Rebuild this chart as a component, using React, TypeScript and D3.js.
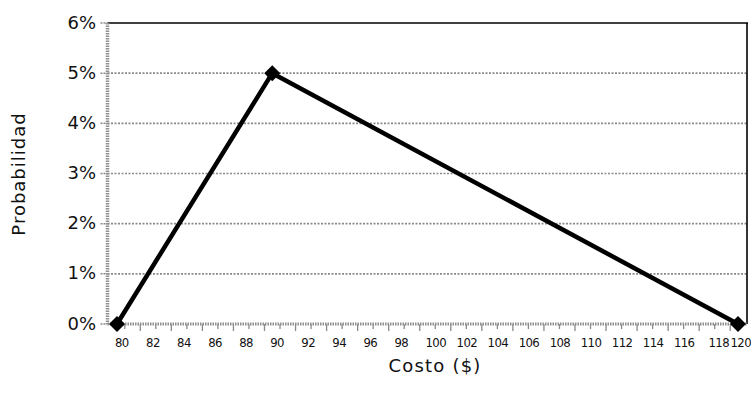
import React from "react";
import * as d3 from "d3";

const costs = [80, 90, 120];
const probs = [0, 5, 0];
const yTicks = [0, 1, 2, 3, 4, 5, 6];
const xLabels = d3.range(80, 121, 2);
const xMinor = d3.range(80.5, 120, 1);
const xTitle = "Costo ($)";
const yTitle = "Probabilidad";

const W = 751;
const H = 402;

export default function App() {
  const x = d3.scaleLinear().domain([80, 120]).range([117, 738]);
  const y = d3.scaleLinear().domain([0, 6]).range([324, 23]);
  const left = 107.5;
  const right = 747;
  const line = d3
    .line<number>()
    .x((_, i) => x(costs[i]))
    .y((d) => y(d));
  const font = "'DejaVu Sans', sans-serif";
  const cond = "'DejaVu Sans Condensed', 'DejaVu Sans', sans-serif";
  return (
    <svg width={W} height={H} style={{ position: "absolute", left: 0, top: 0, background: "#fff" }}>
      {/* gridlines */}
      {yTicks.filter((t) => t > 0 && t < 6).map((t) => (
        <line key={"g" + t} x1={left} x2={right} y1={y(t)} y2={y(t)} stroke="#8a8a8a" strokeWidth={1.6} strokeDasharray="2,1.5" />
      ))}
      {/* top and right border */}
      <line x1={left} x2={right + 1} y1={y(6)} y2={y(6)} stroke="#000" strokeWidth={1.6} />
      <line x1={right} x2={right} y1={y(6)} y2={y(0)} stroke="#000" strokeWidth={1.6} />
      {/* y ticks */}
      {yTicks.map((t) => (
        <g key={"y" + t}>
          <line x1={left - 7} x2={left} y1={y(t)} y2={y(t)} stroke="#8a8a8a" strokeWidth={1.5} strokeDasharray="2,1" />
          <text x={96} y={y(t) + 5.5} textAnchor="end" fontFamily={font} fontSize={18} fill="#111">
            {t + "%"}
          </text>
        </g>
      ))}
      {/* x minor ticks */}
      {xMinor.map((v, i) => (
        <line key={"m" + v} x1={x(v)} x2={x(v)} y1={y(0)} y2={y(0) + (i % 2 === 0 ? 5 : 7)} stroke="#8a8a8a" strokeWidth={1.3} />
      ))}
      {/* axes */}
      <line x1={left} x2={left} y1={y(6)} y2={y(0)} stroke="#8f8f8f" strokeWidth={3.5} strokeDasharray="1.5,1" />
      <line x1={left} x2={right} y1={y(0)} y2={y(0)} stroke="#8f8f8f" strokeWidth={3} strokeDasharray="1.5,1" />
      {/* x labels */}
      {xLabels.map((v) => {
        const last = v === 120;
        const prev = v === 118;
        return (
          <text
            key={"x" + v}
            x={last ? 751 : prev ? 729 : x(v) - 2}
            y={347}
            textAnchor={last || prev ? "end" : "start"}
            fontFamily={cond}
            fontSize={13}
            letterSpacing={-0.6}
            fill="#111"
          >
            {v}
          </text>
        );
      })}
      {/* data line */}
      <path d={line(probs) || ""} fill="none" stroke="#000" strokeWidth={4.5} strokeLinejoin="round" />
      {probs.map((p, i) => {
        const cx = x(costs[i]);
        const cy = y(p);
        const r = 8;
        return (
          <path key={"d" + i} d={`M${cx},${cy - r}L${cx + r},${cy}L${cx},${cy + r}L${cx - r},${cy}Z`} fill="#000" />
        );
      })}
      {/* titles */}
      <text x={435} y={372} textAnchor="middle" fontFamily={font} fontSize={18} letterSpacing={1.2} fill="#111">
        {xTitle}
      </text>
      <text
        transform={`translate(25,${174}) rotate(-90)`}
        textAnchor="middle"
        fontFamily={font}
        fontSize={18}
        letterSpacing={1}
        fill="#111"
      >
        {yTitle}
      </text>
    </svg>
  );
}
